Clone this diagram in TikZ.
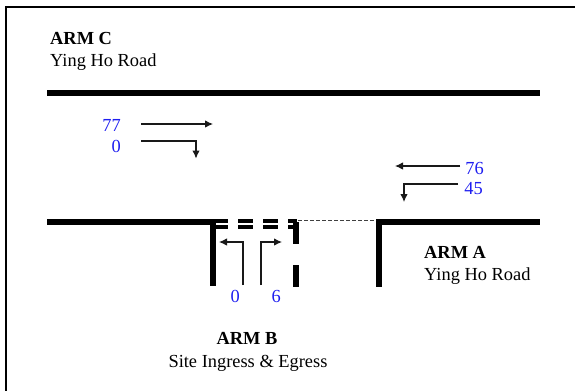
\documentclass[tikz,border=0pt]{standalone}
\usepackage{fontspec}
\setmainfont{Liberation Serif}
\usetikzlibrary{arrows.meta}
\definecolor{cnt}{RGB}{30,30,240}
\tikzset{
 road/.style={line width=6pt,black},
 flow/.style={line width=1.1pt,black!90,-{Latex[length=8pt,width=7.5pt]}},
 lbl/.style={font=\fontsize{18.4pt}{20pt}\selectfont,inner sep=0pt,anchor=base west},
 boldlbl/.style={font=\fontsize{18.4pt}{20pt}\selectfont\bfseries,inner sep=0pt,anchor=base west},
 num/.style={font=\fontsize{18.4pt}{20pt}\selectfont,text=cnt,inner sep=0pt,anchor=base east},
}
\begin{document}
\begin{tikzpicture}[x=1pt,y=-1pt]
\useasboundingbox (0,0) rectangle (575,391);
\coordinate (fBL) at (6,390.5);
\coordinate (fTL) at (6,7);
\coordinate (fTR) at (575,7);
\draw[line width=2.2pt] (fBL) -- (fTL) -- (fTR);
% roads
\coordinate (ct1) at (47,93); \coordinate (ct2) at (540,93);
\draw[road] (ct1) -- (ct2);
\coordinate (bl1) at (47,222); \coordinate (bl2) at (216,222);
\draw[road] (bl1) -- (bl2);
\coordinate (br1) at (376,222); \coordinate (br2) at (540,222);
\draw[road] (br1) -- (br2);
\coordinate (al) at (213,222); \coordinate (alb) at (213,286);
\draw[road] (al) -- (alb);
\coordinate (ar) at (379,222); \coordinate (arb) at (379,287);
\draw[road] (ar) -- (arb);
\coordinate (m1) at (296,222); \coordinate (m2) at (296,244);
\draw[road] (m1) -- (m2);
\coordinate (m3) at (296,265); \coordinate (m4) at (296,287);
\draw[road] (m3) -- (m4);
% dashes
\foreach \x/\w in {216/12,238/15,263/15,288/9}{
 \fill (\x,219.3) rectangle ++(\w,3.4);
 \fill (\x,225.3) rectangle ++(\w,3.4);
}
\coordinate (d1) at (298,220.7); \coordinate (d2) at (376,220.7);
\draw[line width=1pt,black!75,dash pattern=on 3.5pt off 2.5pt] (d1) -- (d2);
% arrows
\coordinate (a1) at (141,124); \coordinate (a2) at (213,124);
\draw[flow] (a1) -- (a2);
\coordinate (b1) at (141,141); \coordinate (b2) at (196,158.5);
\draw[flow] (b1) -| (b2);
\coordinate (c1) at (460,166); \coordinate (c2) at (395,166);
\draw[flow] (c1) -- (c2);
\coordinate (e1) at (458,184); \coordinate (e2) at (404,202);
\draw[flow] (e1) -| (e2);
\coordinate (f1) at (243,285); \coordinate (f2) at (219,242);
\draw[flow] (f1) |- (f2);
\coordinate (g1) at (261,285); \coordinate (g2) at (282,242);
\draw[flow] (g1) |- (g2);
% labels
\node[boldlbl] (armc) at (50,44) {ARM C};
\node[lbl] (armcn) at (50,66) {Ying Ho Road};
\node[boldlbl] (arma) at (424,258) {ARM A};
\node[lbl] (arman) at (424,280) {Ying Ho Road};
\node[boldlbl,anchor=base] (armb) at (247,344) {ARM B};
\node[lbl,anchor=base] (armbn) at (248,367) {Site Ingress \& Egress};
\node[num] (n77) at (121,131) {77};
\node[num] (n0) at (121,152) {0};
\node[num] (n76) at (484,174) {76};
\node[num] (n45) at (483,194) {45};
\node[num] (nb0) at (240,302) {0};
\node[num] (nb6) at (281,302) {6};
\end{tikzpicture}
\end{document}
